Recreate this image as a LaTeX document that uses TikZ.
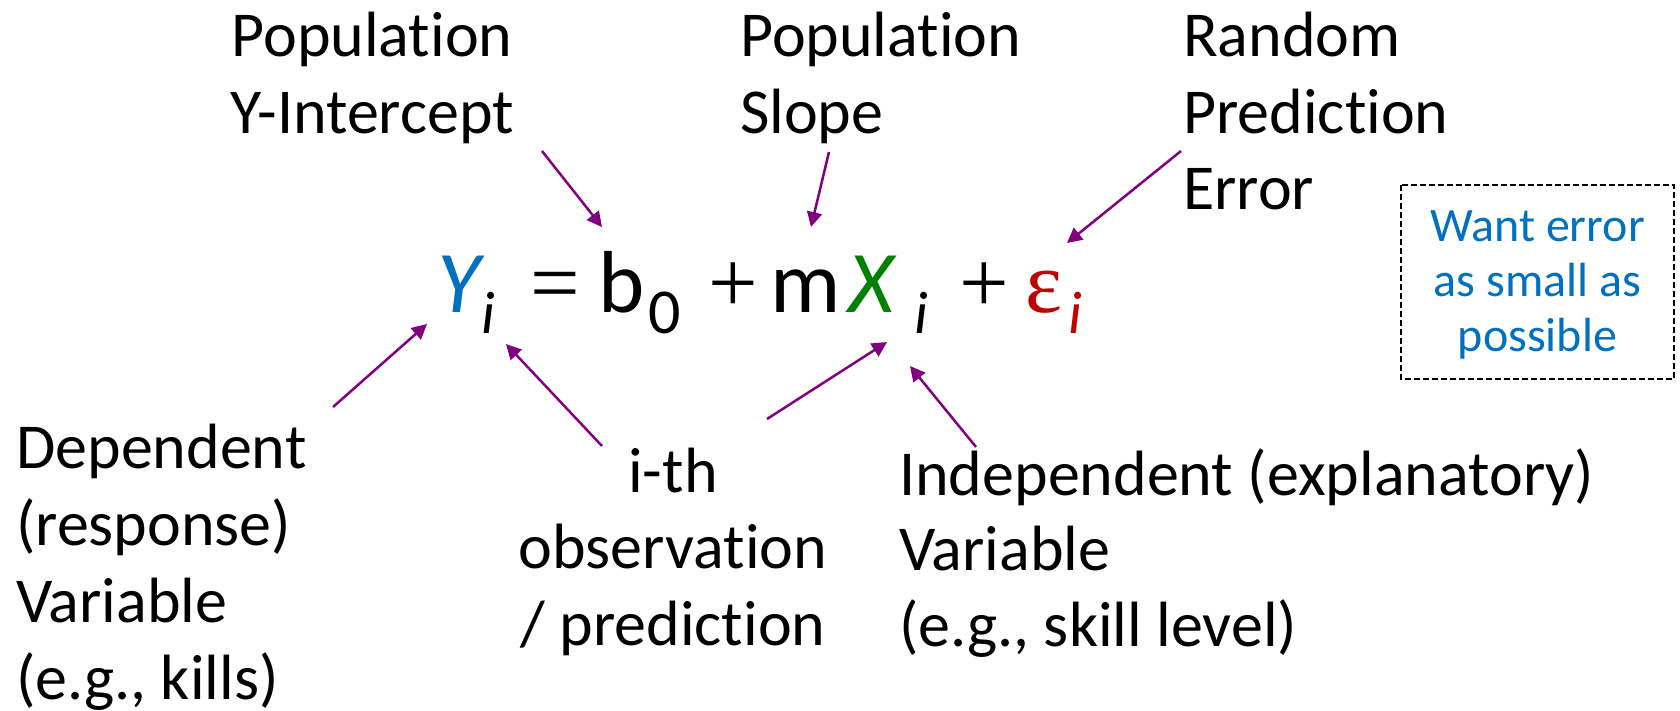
\documentclass[tikz,border=0pt]{standalone}
\usepackage{fontspec}
\setmainfont{Carlito}[Ligatures={NoCommon,NoContextual}]
\newfontfamily\timesfont{Liberation Serif}
\usetikzlibrary{arrows.meta}
\definecolor{ycol}{HTML}{0070C0}
\definecolor{xcol}{HTML}{008000}
\definecolor{ecol}{HTML}{C00000}
\definecolor{arrcol}{HTML}{800080}
\definecolor{boxtxt}{HTML}{0070C0}
\begin{document}
\begin{tikzpicture}[x=1pt,y=-1pt,
  lbl/.style={inner sep=0pt, font=\fontsize{64}{77}\selectfont},
  eqbig/.style={inner sep=0pt, anchor=base west, font=\fontsize{88}{100}\selectfont},
  eqop/.style={inner sep=0pt, anchor=base west, font=\fontsize{88}{100}\selectfont\timesfont},
  eqsub/.style={inner sep=0pt, anchor=base west, font=\fontsize{60}{70}\selectfont\itshape},
  boxlbl/.style={inner sep=0pt, anchor=base, text=boxtxt, font=\fontsize{48}{55}\selectfont},
  pointer/.style={draw=arrcol, line width=2.5pt, -{Triangle[length=15pt,width=15pt]}}]
\useasboundingbox (0,0) rectangle (1680,710);
% top labels
\node[lbl, anchor=base] (int1) at (372,56) {Population};
\node[lbl, anchor=base] (int2) at (372,133) {Y-Intercept};
\node[lbl, anchor=base west] (slo1) at (740,56) {Population};
\node[lbl, anchor=base west] (slo2) at (740,133) {Slope};
\node[lbl, anchor=base west] (err1) at (1183,56) {Random};
\node[lbl, anchor=base west] (err2) at (1183,133) {Prediction};
\node[lbl, anchor=base west] (err3) at (1183,209) {Error};
% equation
\node[eqbig, text=ycol, font=\fontsize{88}{100}\selectfont\itshape] (Y) at (437,312) {Y};
\node[eqsub] (iY) at (481,333) {i};
\node[eqop] (eq) at (530,312) {=};
\node[eqbig] (b) at (598,312) {b};
\node[eqsub, font=\fontsize{64}{70}\selectfont] (zero) at (648,333) {0};
\node[eqop] (p1) at (708,312) {+};
\node[eqbig] (m) at (770,312) {m};
\node[eqbig, text=xcol, font=\fontsize{88}{100}\selectfont\itshape] (X) at (848,312) {X};
\node[eqsub] (iX) at (914,333) {i};
\node[eqop] (p2) at (959,312) {+};
\node[eqbig, text=ecol, font=\fontsize{88}{100}\selectfont\timesfont] (eps) at (1025,312) {ε};
\node[eqsub, text=ecol] (ie) at (1068,333) {i};
% box
\draw[black, line width=2pt, dash pattern=on 6pt off 3pt] (1401,185) rectangle (1674,379);
\node[boxlbl] (w1) at (1537.5,241) {Want error};
\node[boxlbl] (w2) at (1537.5,296) {as small as};
\node[boxlbl] (w3) at (1537.5,351) {possible};
% bottom labels
\node[lbl, anchor=base west] (dep1) at (16,468) {Dependent};
\node[lbl, anchor=base west] (dep2) at (16,545) {(response)};
\node[lbl, anchor=base west] (dep3) at (16,622) {Variable};
\node[lbl, anchor=base west] (dep4) at (16,699) {(e.g., kills)};
\node[lbl, anchor=base] (obs1) at (673,492) {i-th};
\node[lbl, anchor=base] (obs2) at (673,568) {observation};
\node[lbl, anchor=base] (obs3) at (673,645) {/ prediction};
\node[lbl, anchor=base west] (ind1) at (899,495) {Independent (explanatory)};
\node[lbl, anchor=base west] (ind2) at (899,570) {Variable};
\node[lbl, anchor=base west] (ind3) at (899,646) {(e.g., skill level)};
% arrow endpoints
\coordinate (s1) at (542,151); \coordinate (t1) at (602,227);
\coordinate (s2) at (829,152); \coordinate (t2) at (811,227);
\coordinate (s3) at (1181,151); \coordinate (t3) at (1067,243);
\coordinate (s4) at (333,407); \coordinate (t4) at (427,324);
\coordinate (s5) at (602,446); \coordinate (t5) at (506,344);
\coordinate (s6) at (767,419); \coordinate (t6) at (887,342);
\coordinate (s7) at (976,447); \coordinate (t7) at (910,366);
\foreach \k in {1,...,7} \draw[pointer] (s\k) -- (t\k);
\end{tikzpicture}
\end{document}
